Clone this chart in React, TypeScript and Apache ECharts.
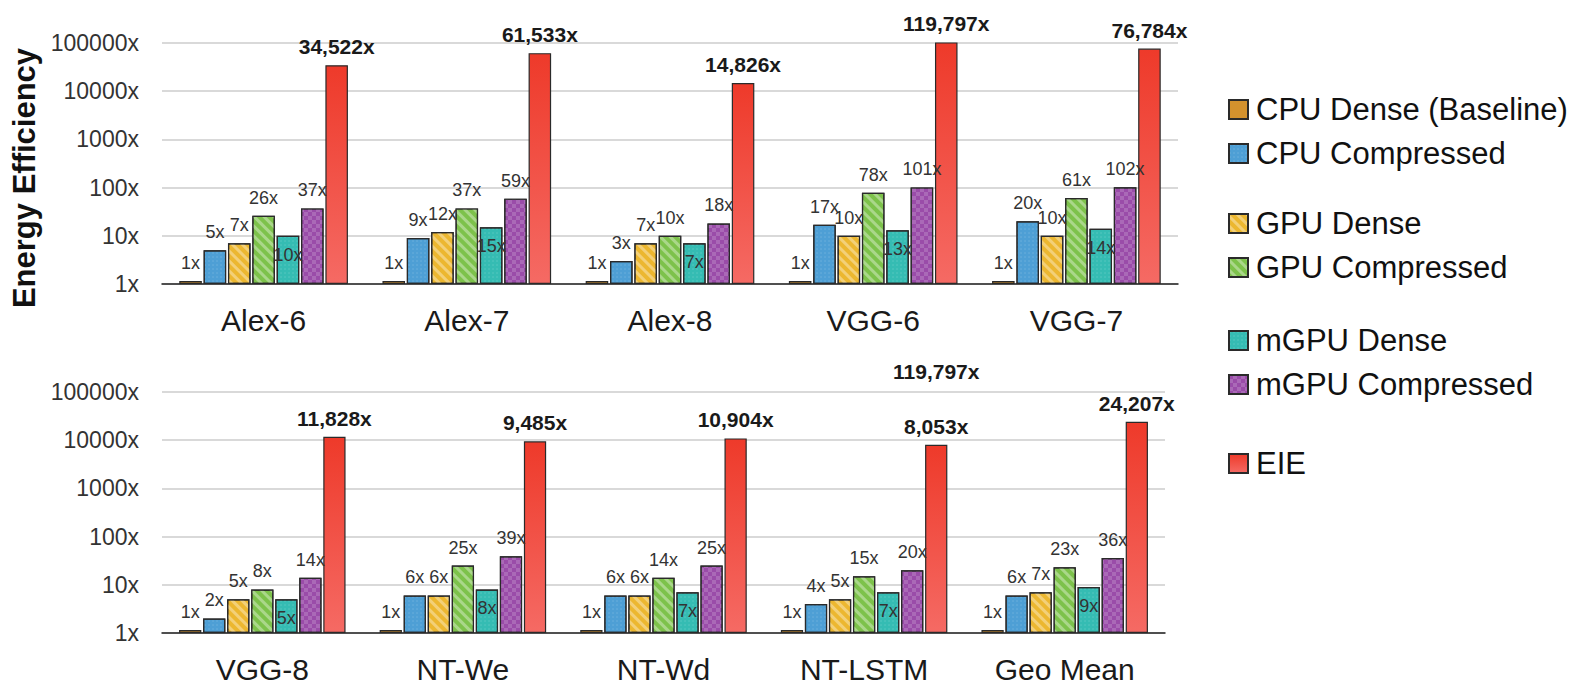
import React, { useEffect, useRef } from "react";
import * as echarts from "echarts";

const categoriesTop = ["Alex-6", "Alex-7", "Alex-8", "VGG-6", "VGG-7"];
const categoriesBottom = ["VGG-8", "NT-We", "NT-Wd", "NT-LSTM", "Geo Mean"];

const seriesNames = [
  "CPU Dense (Baseline)",
  "CPU Compressed",
  "GPU Dense",
  "GPU Compressed",
  "mGPU Dense",
  "mGPU Compressed",
  "EIE",
];

// Top panel values (per series)
const cpuDenseTop = [1, 1, 1, 1, 1];
const cpuCompTop = [5, 9, 3, 17, 20];
const gpuDenseTop = [7, 12, 7, 10, 10];
const gpuCompTop = [26, 37, 10, 78, 61];
const mgpuDenseTop = [10, 15, 7, 13, 14];
const mgpuCompTop = [37, 59, 18, 101, 102];
const eieTop = [34522, 61533, 14826, 119797, 76784];

// Bottom panel values (per series)
const cpuDenseBottom = [1, 1, 1, 1, 1];
const cpuCompBottom = [2, 6, 6, 4, 6];
const gpuDenseBottom = [5, 6, 6, 5, 7];
const gpuCompBottom = [8, 25, 14, 15, 23];
const mgpuDenseBottom = [5, 8, 7, 7, 9];
const mgpuCompBottom = [14, 39, 25, 20, 36];
const eieBottom = [11828, 9485, 10904, 8053, 24207];

// stray annotation visible in the lower panel (same as VGG-6 EIE)
const strayLabelCategory = "NT-LSTM";
const strayLabelValue = 119797;

const yTicks = [1, 10, 100, 1000, 10000, 100000];

const colors = ["#d4922d", "#4e9fd5", "#ecb730", "#7dc24b", "#35bcb3", "#9a4ca9", "#ef4438"];

export default function App() {
  const ref = useRef<HTMLDivElement>(null);

  useEffect(() => {
    if (!ref.current) return;
    const chart = echarts.init(ref.current, null, { renderer: "svg" });

    const dots = {
      symbol: "circle",
      symbolSize: 0.7,
      dashArrayX: [2, 2],
      dashArrayY: [2, 2],
      color: "rgba(255,255,255,0.18)",
    };
    const stripes = {
      symbol: "rect",
      symbolSize: 1,
      dashArrayX: [1, 0],
      dashArrayY: [3, 4],
      rotation: Math.PI / 4,
      color: "rgba(255,255,255,0.35)",
    };
    const checker = {
      symbol: "rect",
      symbolSize: 1,
      dashArrayX: [
        [4, 4],
        [0, 4, 4, 0],
      ],
      dashArrayY: [4, 0],
      color: "rgba(255,255,255,0.16)",
    };
    const decals: any[] = [null, dots, stripes, stripes, dots, checker, null];

    const redGradient = {
      type: "linear",
      x: 0,
      y: 0,
      x2: 0,
      y2: 1,
      colorStops: [
        { offset: 0, color: "#ee3a2a" },
        { offset: 1, color: "#f56a64" },
      ],
    };

    const fmtNum = (v: number) => `${Math.round(v).toLocaleString("en-US")}x`;

    const topData = [cpuDenseTop, cpuCompTop, gpuDenseTop, gpuCompTop, mgpuDenseTop, mgpuCompTop, eieTop];
    const bottomData = [
      cpuDenseBottom,
      cpuCompBottom,
      gpuDenseBottom,
      gpuCompBottom,
      mgpuDenseBottom,
      mgpuCompBottom,
      eieBottom,
    ];

    const makeSeries = (panel: number, data: number[][]) =>
      seriesNames.map((name, i) => {
        const isEIE = i === 6;
        const isTeal = i === 4;
        const s: any = {
          name,
          type: "bar",
          xAxisIndex: panel,
          yAxisIndex: panel,
          data: data[i],
          barCategoryGap: "17%",
          barGap: "8%",
          barMinHeight: i === 0 ? 3 : 0,
          clip: true,
          itemStyle: {
            color: isEIE ? redGradient : colors[i],
            borderColor: "#2a2a2a",
            borderWidth: 1.2,
            decal: decals[i] || undefined,
          },
          label: {
            show: true,
            position: isTeal ? "insideTop" : "top",
            distance: isTeal ? 5 : isEIE ? 8 : 9,
            offset: isTeal ? [0, 5] : [0, 0],
            formatter: (p: any) => fmtNum(p.value),
            fontFamily: "Liberation Sans, Arial, sans-serif",
            fontSize: isEIE ? 21 : 18,
            fontWeight: isEIE ? "bold" : "normal",
            color: isEIE ? "#1a1a1a" : "#333",
          },
        };
        if (isEIE && panel === 1) {
          s.markPoint = {
            symbol: "rect",
            symbolSize: 0,
            silent: true,
            data: [{ coord: [strayLabelCategory, yTicks[yTicks.length - 1]], value: strayLabelValue }],
            label: {
              show: true,
              position: "top",
              distance: 10,
              formatter: (p: any) => fmtNum(p.value),
              fontFamily: "Liberation Sans, Arial, sans-serif",
              fontSize: 21,
              fontWeight: "bold",
              color: "#1a1a1a",
            },
          };
        }
        return s;
      });

    const xAxisCommon = {
      type: "category",
      axisTick: { show: false },
      axisLine: { show: true, lineStyle: { color: "#222", width: 1.5 } },
      axisLabel: {
        margin: 21,
        fontSize: 30,
        color: "#1a1a1a",
        fontFamily: "Liberation Sans, Arial, sans-serif",
      },
    };
    const yAxisCommon = {
      type: "log",
      logBase: 10,
      min: yTicks[0],
      max: yTicks[yTicks.length - 1],
      axisLine: { show: false },
      axisTick: { show: false },
      splitLine: { show: true, lineStyle: { color: "#cdcdcd", width: 1.5 } },
      axisLabel: {
        margin: 23,
        fontSize: 23,
        color: "#333",
        fontFamily: "Liberation Sans, Arial, sans-serif",
        formatter: (v: number) => `${Math.round(v)}x`,
      },
    };

    const legendCommon = {
      orient: "vertical",
      left: 1228,
      padding: 0,
      itemWidth: 19,
      itemHeight: 19,
      itemGap: 13,
      selectedMode: false,
      icon: "rect",
      textStyle: {
        fontSize: 31,
        color: "#111",
        fontFamily: "Liberation Sans, Arial, sans-serif",
        padding: [0, 0, 0, 3],
      },
    };

    chart.setOption({
      animation: false,
      backgroundColor: "#ffffff",
      textStyle: { fontFamily: "Liberation Sans, Arial, sans-serif" },
      grid: [
        { left: 162, right: 399, top: 43, height: 241 },
        { left: 162, right: 412, top: 392, height: 241 },
      ],
      xAxis: [
        { ...xAxisCommon, gridIndex: 0, data: categoriesTop },
        { ...xAxisCommon, gridIndex: 1, data: categoriesBottom },
      ],
      yAxis: [
        { ...yAxisCommon, gridIndex: 0 },
        { ...yAxisCommon, gridIndex: 1 },
      ],
      legend: [
        { ...legendCommon, top: 94, data: [seriesNames[0], seriesNames[1]] },
        { ...legendCommon, top: 208, data: [seriesNames[2], seriesNames[3]] },
        { ...legendCommon, top: 325, data: [seriesNames[4], seriesNames[5]] },
        { ...legendCommon, top: 448, data: [seriesNames[6]] },
      ],
      graphic: [
        {
          type: "text",
          x: 24,
          y: 178,
          rotation: Math.PI / 2,
          style: {
            text: "Energy Efficiency",
            fontSize: 31,
            fontWeight: "bold",
            fill: "#111",
            fontFamily: "Liberation Sans, Arial, sans-serif",
            textAlign: "center",
            textVerticalAlign: "middle",
          },
        },
      ],
      series: [...makeSeries(0, topData), ...makeSeries(1, bottomData)],
    });

    return () => chart.dispose();
  }, []);

  return (
    <div
      ref={ref}
      style={{ position: "fixed", left: 0, top: 0, width: 1577, height: 688, background: "#fff" }}
    />
  );
}
